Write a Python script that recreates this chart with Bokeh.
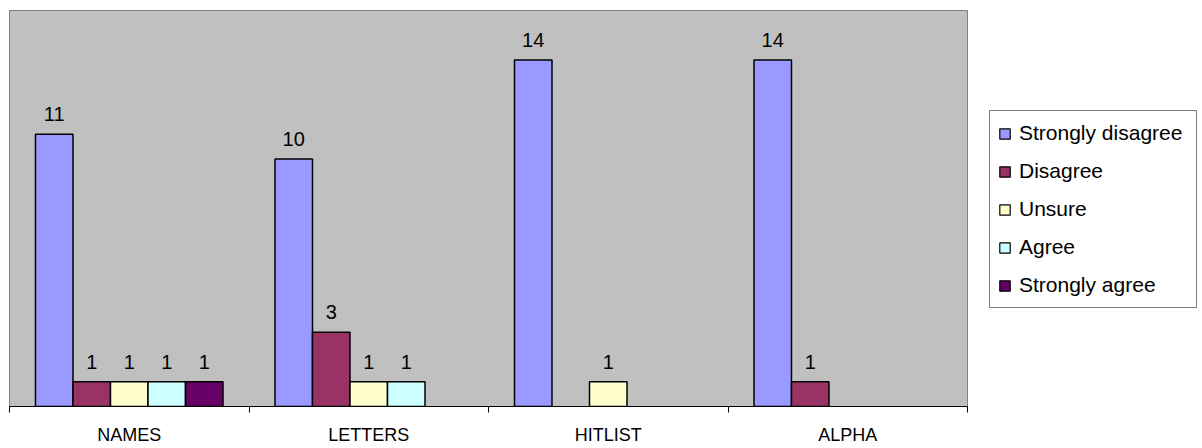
from bokeh.plotting import figure
from bokeh.layouts import row
from bokeh.models import (ColumnDataSource, Range1d, FixedTicker, CustomJSTickFormatter,
                          Legend, LegendItem)
from bokeh.core.properties import value
from bokeh.embed import file_html
from bokeh.resources import INLINE

categories = ["NAMES", "LETTERS", "HITLIST", "ALPHA"]
series_names = ["Strongly disagree", "Disagree", "Unsure", "Agree", "Strongly agree"]
strongly_disagree = [11, 10, 14, 14]
disagree = [1, 3, 0, 1]
unsure = [1, 1, 1, 0]
agree = [1, 1, 0, 0]
strongly_agree = [1, 0, 0, 0]
colors = ["#9999FF", "#993366", "#FFFFCC", "#CCFFFF", "#660066"]

series_values = [strongly_disagree, disagree, unsure, agree, strongly_agree]

FONT = "Liberation Sans"
bar_w = 0.1566
H = 447

p = figure(width=980, height=H, output_backend="svg", toolbar_location=None,
           x_range=Range1d(0, len(categories)), y_range=Range1d(0, 16),
           y_axis_location=None, min_border_left=9, min_border_top=10,
           min_border_right=13, min_border_bottom=38)
p.background_fill_color = "#C0C0C0"
p.border_fill_color = "white"
p.outline_line_color = "#808080"
p.outline_line_width = 1
p.xgrid.visible = False
p.ygrid.visible = False

for j, (name, vals, col) in enumerate(zip(series_names, series_values, colors)):
    xs = [i + 0.5 + (j - 2) * bar_w for i, v in enumerate(vals) if v != 0]
    tops = [v for v in vals if v != 0]
    src = ColumnDataSource(dict(x=xs, top=tops, lab=[str(v) for v in tops]))
    p.vbar(x="x", top="top", bottom=0, width=bar_w, source=src,
           fill_color=col, line_color="black", line_width=1.5)
    p.text(x="x", y="top", text="lab", source=src, text_align="center",
           text_baseline="alphabetic", y_offset=-20, text_font=value(FONT),
           text_font_size="20px", text_color="black")

ax = p.xaxis[0]
ax.ticker = FixedTicker(ticks=[i + 0.5 for i in range(len(categories))],
                        minor_ticks=list(range(len(categories) + 1)))
ax.formatter = CustomJSTickFormatter(args=dict(labels=categories),
                                     code="return labels[Math.floor(tick)];")
ax.axis_line_color = "black"
ax.axis_line_width = 1
ax.major_tick_out = 0
ax.major_tick_in = 0
ax.minor_tick_out = 6
ax.minor_tick_in = 0
ax.minor_tick_line_color = "black"
ax.major_label_standoff = 12
ax.major_label_text_font = FONT
ax.major_label_text_font_size = "18px"
ax.major_label_text_color = "black"

# legend panel (swatch renderers sit hidden underneath the opaque legend box)
q = figure(width=218, height=H, output_backend="svg", toolbar_location=None,
           x_range=Range1d(0, 1), y_range=Range1d(0, 1),
           x_axis_location=None, y_axis_location=None,
           min_border_left=0, min_border_right=0, min_border_top=0, min_border_bottom=0)
q.outline_line_color = None
q.background_fill_color = "white"
q.border_fill_color = "white"
q.xgrid.visible = False
q.ygrid.visible = False

items = []
for name, col in zip(series_names, colors):
    r = q.vbar(x=[0.5], top=[0.53], bottom=0.5, width=0.05,
               fill_color=col, line_color="black", line_width=1.2)
    items.append(LegendItem(label=name, renderers=[r]))

legend = Legend(items=items, location=(9, 98))
legend.border_line_color = "black"
legend.border_line_width = 1
legend.background_fill_color = "white"
legend.background_fill_alpha = 1
legend.label_text_font = FONT
legend.label_text_font_size = "21px"
legend.label_text_color = "black"
legend.glyph_width = 13
legend.glyph_height = 13
legend.label_height = 28
legend.label_width = 169
legend.label_standoff = 8
legend.spacing = 10
legend.padding = 8
legend.margin = 0
q.add_layout(legend, "center")

layout = row(p, q, spacing=0)
open("out.html", "w").write(file_html(layout, INLINE))
